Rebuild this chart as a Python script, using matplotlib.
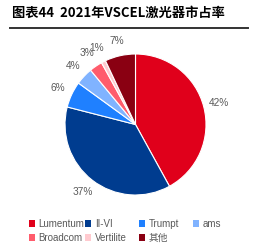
import matplotlib
matplotlib.use("Agg")
import matplotlib.pyplot as plt
from matplotlib.patches import Patch
from matplotlib.lines import Line2D

plt.rcParams['font.family'] = ['Liberation Sans', 'Noto Sans CJK SC', 'DejaVu Sans']

categories = ["Lumentum", "II-VI", "Trumpt", "ams", "Broadcom", "Vertilite", "其他"]
shares = [42, 37, 6, 4, 3, 1, 7]
colors = ["#E0001B", "#003C8F", "#1F80FF", "#80B3FF", "#FF5C6C", "#FFCACF", "#8A0012"]
title = "图表44  2021年VSCEL激光器市占率"

W, H = 256, 248
fig = plt.figure(figsize=(W / 100, H / 100), dpi=100)
fig.text(12 / W, 1 - 13 / H, title, fontsize=9.5, fontweight='bold', va='center', ha='left',
         family=['Noto Sans CJK SC', 'DejaVu Sans'])
fig.add_artist(Line2D([10 / W, 248 / W], [1 - 28 / H, 1 - 28 / H], color='#333333', lw=1.4))

R = 70.5
cx, cy = 135.5, 124.5
side = 2.5 * R
ax = fig.add_axes([(cx - side / 2) / W, (H - cy - side / 2) / H, side / W, side / H])
wedges, texts = ax.pie(shares, colors=colors, startangle=90, counterclock=False,
                       labels=[f"{v}%" for v in shares], labeldistance=1.22,
                       wedgeprops=dict(edgecolor='white', linewidth=0.8),
                       textprops=dict(color='#595959', fontsize=7.3))
for t in texts:
    t.set_ha('center')
ax.set_xlim(-1.25, 1.25)
ax.set_ylim(-1.25, 1.25)
ax.set_aspect('equal')

# legend: row-major, fixed column positions
col_x = [29, 85, 139, 193]
row_y = [224, 238]
for i, (c, name) in enumerate(zip(colors, categories)):
    r, col = divmod(i, 4)
    fig.legend([Patch(facecolor=c, edgecolor='none')], [name],
               loc='center left', bbox_to_anchor=(col_x[col] / W, 1 - row_y[r] / H),
               frameon=False, fontsize=7, handlelength=0.6, handleheight=0.6,
               handletextpad=0.4, borderpad=0, borderaxespad=0,
               labelcolor='#595959')

fig.savefig("out.png", dpi=100)
